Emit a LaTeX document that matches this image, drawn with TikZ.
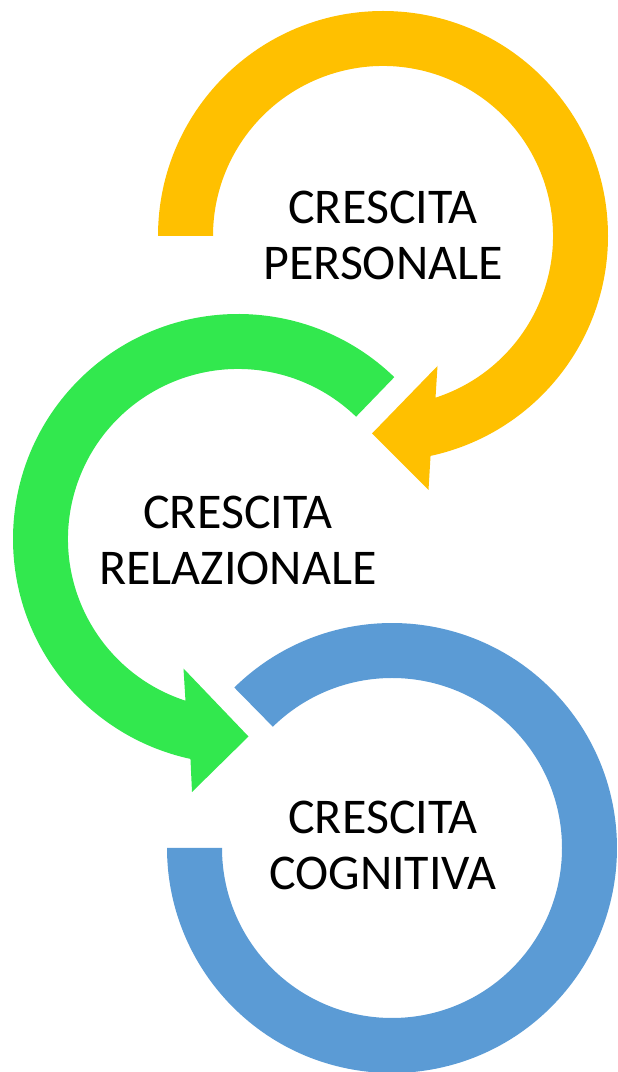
\documentclass[tikz,border=0pt]{standalone}
\usepackage{fontspec}
\setmainfont{Carlito}
\usepackage{tikz}
\definecolor{personalcolor}{RGB}{255,192,0}
\definecolor{relationalcolor}{RGB}{50,232,78}
\definecolor{cognitivecolor}{RGB}{91,155,213}

\begin{document}
\begin{tikzpicture}[
    x=1pt, y=1pt,
    label/.style={align=center, font=\fontsize{50}{56}\selectfont},
    band/.style={draw=none}
]
    \useasboundingbox (0,0) rectangle (618,1072);

    % personale: from the left end, clockwise, arrow head at the bottom
    \fill[band, personalcolor, shift={(383,836)}]
        (180:225pt) arc[start angle=180, end angle=-77.8, radius=225pt]
        -- (45.5,-254) -- (-11,-197.5) -- (54.5,-130)
        -- (-72:170pt) arc[start angle=-72, end angle=180, radius=170pt] -- cycle;

    % relazionale: from the upper right, counterclockwise
    \fill[band, relationalcolor, shift={(238,533)}]
        (46:225pt) arc[start angle=46, end angle=257.8, radius=225pt]
        -- (-46,-253) -- (10.5,-197.5) -- (-54.5,-129.5)
        -- (252:170pt) arc[start angle=252, end angle=46, radius=170pt] -- cycle;

    % cognitiva: no head
    \fill[band, cognitivecolor, shift={(392,224)}]
        (134.5:225pt) arc[start angle=134.5, end angle=-180, radius=225pt]
        -- (180:170pt) arc[start angle=-180, end angle=134.5, radius=170pt] -- cycle;

    \node[label] (personale) at (383,837) {CRESCITA\\PERSONALE};
    \node[label] (relazionale) at (238,532) {CRESCITA\\RELAZIONALE};
    \node[label] (cognitiva) at (383,227) {CRESCITA\\COGNITIVA};
\end{tikzpicture}
\end{document}
